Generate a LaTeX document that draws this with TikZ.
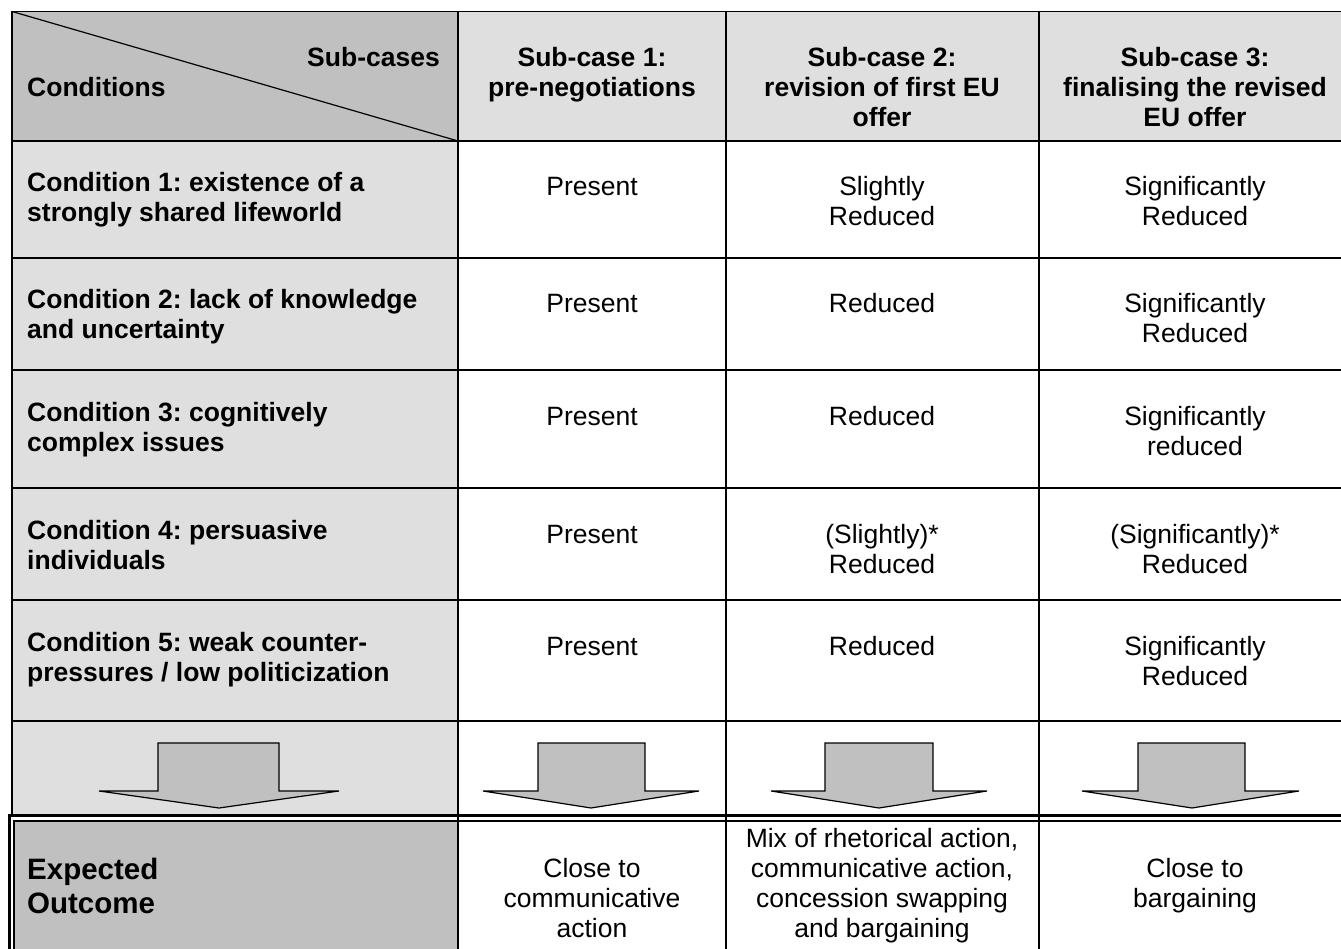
\documentclass[tikz,border=0pt]{standalone}
\usepackage{fontspec}
\setmainfont{Liberation Sans}
\frenchspacing
\definecolor{cellDark}{RGB}{192,192,192}
\definecolor{cellLight}{RGB}{223,223,223}
\newcommand\boldfnt{\fontsize{26.5}{30}\selectfont\bfseries\frenchspacing}
\newcommand\bigboldfnt{\fontsize{29.5}{33.5}\selectfont\bfseries\frenchspacing}
\newcommand\plainfnt{\fontsize{26.5}{30}\selectfont\frenchspacing}
\tikzset{
  gridline/.style={line width=1.7pt},
  thickrule/.style={line width=3pt},
  thinrule/.style={line width=1.5pt},
  condtext/.style={anchor=base west, inner sep=0pt, align=left, font=\boldfnt},
  hdrtext/.style={anchor=base, inner sep=0pt, align=center, font=\boldfnt},
  valtext/.style={anchor=base, inner sep=0pt, align=center, font=\plainfnt},
  blockarrow/.style={fill=cellDark, draw=black, line width=1.2pt, line join=miter},
}
\begin{document}
\begin{tikzpicture}[x=1pt,y=-1pt]
\useasboundingbox (0,0) rectangle (1341,949);
\fill[white] (0,0) rectangle (1341,949);
% fills
\fill[cellDark] (12,11.5) rectangle (458,141);
\fill[cellLight] (458,11.5) rectangle (1350,141);
\fill[cellLight] (12,141) rectangle (458,815);
\fill[cellDark] (14,821) rectangle (458,955);
% grid lines
\foreach \yy in {11.5,141,258,370,488,600,721}
  \draw[gridline] (12,\yy) -- (1350,\yy);
\draw[gridline] (12,11.5) -- (12,815);
\foreach \xx in {458,726,1039}
  \draw[gridline] (\xx,11.5) -- (\xx,955);
\draw[line width=1.2pt] (12,11.5) -- (458,141);
% double rule of the outcome row
\draw[thickrule] (9.5,955) -- (9.5,815.5) -- (1350,815.5);
\draw[thinrule] (14,955) -- (14,821) -- (1350,821);
% header (anchor base = baseline of the last line)
\node[hdrtext, anchor=base east] (subcases) at (440,67) {Sub-cases};
\node[condtext] (conditions) at (27,97) {Conditions};
\node[hdrtext] (h1) at (592,97) {Sub-case 1:\\pre-negotiations};
\node[hdrtext] (h2) at (882,127) {Sub-case 2:\\revision of first EU\\offer};
\node[hdrtext] (h3) at (1195,127) {Sub-case 3:\\finalising the revised\\EU offer};
% conditions
\node[condtext] (c1) at (27,222) {Condition 1: existence of a\\strongly shared lifeworld};
\node[condtext] (c2) at (27,339) {Condition 2: lack of knowledge\\and uncertainty};
\node[condtext] (c3) at (27,451) {Condition 3: cognitively\\complex issues};
\node[condtext] (c4) at (27,569) {Condition 4: persuasive\\individuals};
\node[condtext] (c5) at (27,681) {Condition 5: weak counter-\\pressures / low politicization};
% values
\node[valtext] (v11) at (592,196) {Present};
\node[valtext] (v12) at (882,226) {Slightly\\Reduced};
\node[valtext] (v13) at (1195,226) {Significantly\\Reduced};
\node[valtext] (v21) at (592,313) {Present};
\node[valtext] (v22) at (882,313) {Reduced};
\node[valtext] (v23) at (1195,343) {Significantly\\Reduced};
\node[valtext] (v31) at (592,425) {Present};
\node[valtext] (v32) at (882,425) {Reduced};
\node[valtext] (v33) at (1195,455) {Significantly\\reduced};
\node[valtext] (v41) at (592,543) {Present};
\node[valtext] (v42) at (882,573) {(Slightly)*\\Reduced};
\node[valtext] (v43) at (1195,573) {(Significantly)*\\Reduced};
\node[valtext] (v51) at (592,655) {Present};
\node[valtext] (v52) at (882,655) {Reduced};
\node[valtext] (v53) at (1195,685) {Significantly\\Reduced};
% block arrows
\draw[blockarrow] (158,743) -- (279,743) -- (279,791) -- (339,791) -- (219,808) -- (99,791) -- (158,791) -- cycle;
\draw[blockarrow] (538,743) -- (645,743) -- (645,791) -- (699,791) -- (591,808) -- (483,791) -- (538,791) -- cycle;
\draw[blockarrow] (825,743) -- (933,743) -- (933,791) -- (987,791) -- (879,808) -- (771,791) -- (825,791) -- cycle;
\draw[blockarrow] (1138,743) -- (1245,743) -- (1245,791) -- (1299,791) -- (1192,808) -- (1082,791) -- (1138,791) -- cycle;
% outcome row
\node[condtext, font=\bigboldfnt] (eo) at (27,913) {Expected\\Outcome};
\node[valtext] (o1) at (592,937) {Close to\\communicative\\action};
\node[valtext] (o2) at (882,937) {Mix of rhetorical action,\\communicative action,\\concession swapping\\and bargaining};
\node[valtext] (o3) at (1195,907) {Close to\\bargaining};
\end{tikzpicture}
\end{document}
